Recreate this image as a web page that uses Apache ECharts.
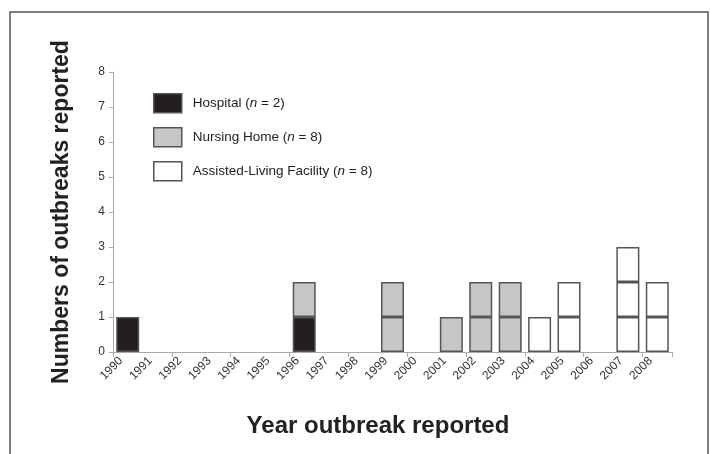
<!DOCTYPE html>
<html><head><meta charset="utf-8">
<script src="https://cdn.jsdelivr.net/npm/echarts@6/dist/echarts.min.js"></script>
<style>html,body{margin:0;padding:0;background:#fff}#c{width:710px;height:454px}</style>
</head><body><div id="c"></div>
<script>
var years = ['1990','1991','1992','1993','1994','1995','1996','1997','1998','1999','2000','2001','2002','2003','2004','2005','2006','2007','2008'];
var hospital     = [1,0,0,0,0,0,1,0,0,0,0,0,0,0,0,0,0,0,0];
var nursingHome  = [0,0,0,0,0,0,1,0,0,2,0,1,2,2,0,0,0,0,0];
var assisted     = [0,0,0,0,0,0,0,0,0,0,0,0,0,0,1,2,0,3,2];
var yTicks = [0,1,2,3,4,5,6,7,8];
var names = {
  h: '{t|Hospital (}{i|n}{t| = 2)}',
  n: '{t|Nursing Home (}{i|n}{t| = 8)}',
  a: '{t|Assisted-Living Facility (}{i|n}{t| = 8)}'
};
var FONT = '"Liberation Sans", Arial, Helvetica, sans-serif';
var edge = '#555';

function layers(counts, name, color) {
  var maxN = Math.max.apply(null, counts);
  var out = [];
  for (var k = 1; k <= maxN; k++) {
    out.push({
      name: name, type: 'bar', stack: 'all', barWidth: 23,
      xAxisIndex: 0, yAxisIndex: 0,
      itemStyle: { color: color, borderColor: edge, borderWidth: 1.5 },
      emphasis: { disabled: true },
      data: counts.map(function (c) { return c >= k ? 1 : '-'; })
    });
  }
  return out;
}

var series = [].concat(
  layers(hospital, 'h', '#231f20'),
  layers(nursingHome, 'n', '#c6c6c6'),
  layers(assisted, 'a', '#ffffff')
);

var chart = echarts.init(document.getElementById('c'), null, { renderer: 'canvas' });
chart.setOption({
  animation: false,
  backgroundColor: '#fff',
  grid: [
    { left: 113, right: 38, top: 72, bottom: 102, containLabel: false },
    { left: 121, right: 30, top: 72, bottom: 102, containLabel: false }
  ],
  legend: {
    orient: 'vertical', left: 153, top: 93, padding: 0,
    itemWidth: 28, itemHeight: 19, itemGap: 13.5,
    icon: 'rect',
    data: [
      { name: 'h', itemStyle: { color: '#231f20', borderColor: edge, borderWidth: 1.5 } },
      { name: 'n', itemStyle: { color: '#c6c6c6', borderColor: edge, borderWidth: 1.5 } },
      { name: 'a', itemStyle: { color: '#ffffff', borderColor: edge, borderWidth: 1.5 } }
    ],
    formatter: function (n) { return names[n]; },
    textStyle: {
      padding: [0, 0, 0, 6],
      rich: {
        t: { fontFamily: FONT, fontSize: 13.5, color: '#222' },
        i: { fontFamily: FONT, fontSize: 13.5, color: '#222', fontStyle: 'italic' }
      }
    }
  },
  xAxis: [
    {
      type: 'category', data: years, boundaryGap: true, gridIndex: 0,
      axisLine: { lineStyle: { color: '#aaa', width: 1 } },
      axisTick: { show: true, alignWithLabel: false, length: 5, lineStyle: { color: '#aaa' } },
      axisLabel: { show: false }
    },
    {
      type: 'category', data: years.concat(['']), boundaryGap: false, gridIndex: 1,
      axisLine: { show: false }, axisTick: { show: false },
      axisLabel: {
        show: true, interval: 0, rotate: 45, margin: 7,
        fontFamily: FONT, fontSize: 12, color: '#333'
      }
    }
  ],
  yAxis: [
    {
      type: 'value', min: 0, max: 8, interval: 1, gridIndex: 0,
      splitLine: { show: false },
      axisLine: { show: true, lineStyle: { color: '#aaa', width: 1 } },
      axisTick: { show: true, length: 4, lineStyle: { color: '#aaa' } },
      axisLabel: {
        margin: 8, fontFamily: FONT, fontSize: 12, color: '#333',
        formatter: function (v) { return yTicks.indexOf(v) >= 0 ? String(v) : ''; }
      }
    },
    {
      type: 'value', min: 0, max: 8, interval: 1, gridIndex: 1, show: false
    }
  ],
  graphic: [
    { type: 'rect', silent: true, shape: { x: 10, y: 12, width: 698, height: 470 },
      style: { fill: 'none', stroke: '#555', lineWidth: 1.5 } },
    { type: 'text', silent: true, x: 62, y: 212, rotation: Math.PI / 2,
      style: { text: 'Numbers of outbreaks reported', font: 'bold 23px ' + FONT,
        fill: '#222', align: 'center', verticalAlign: 'middle' } },
    { type: 'text', silent: true, x: 378, y: 426,
      style: { text: 'Year outbreak reported', font: 'bold 24px ' + FONT,
        fill: '#222', align: 'center', verticalAlign: 'middle' } }
  ],
  series: series
});
</script></body></html>
